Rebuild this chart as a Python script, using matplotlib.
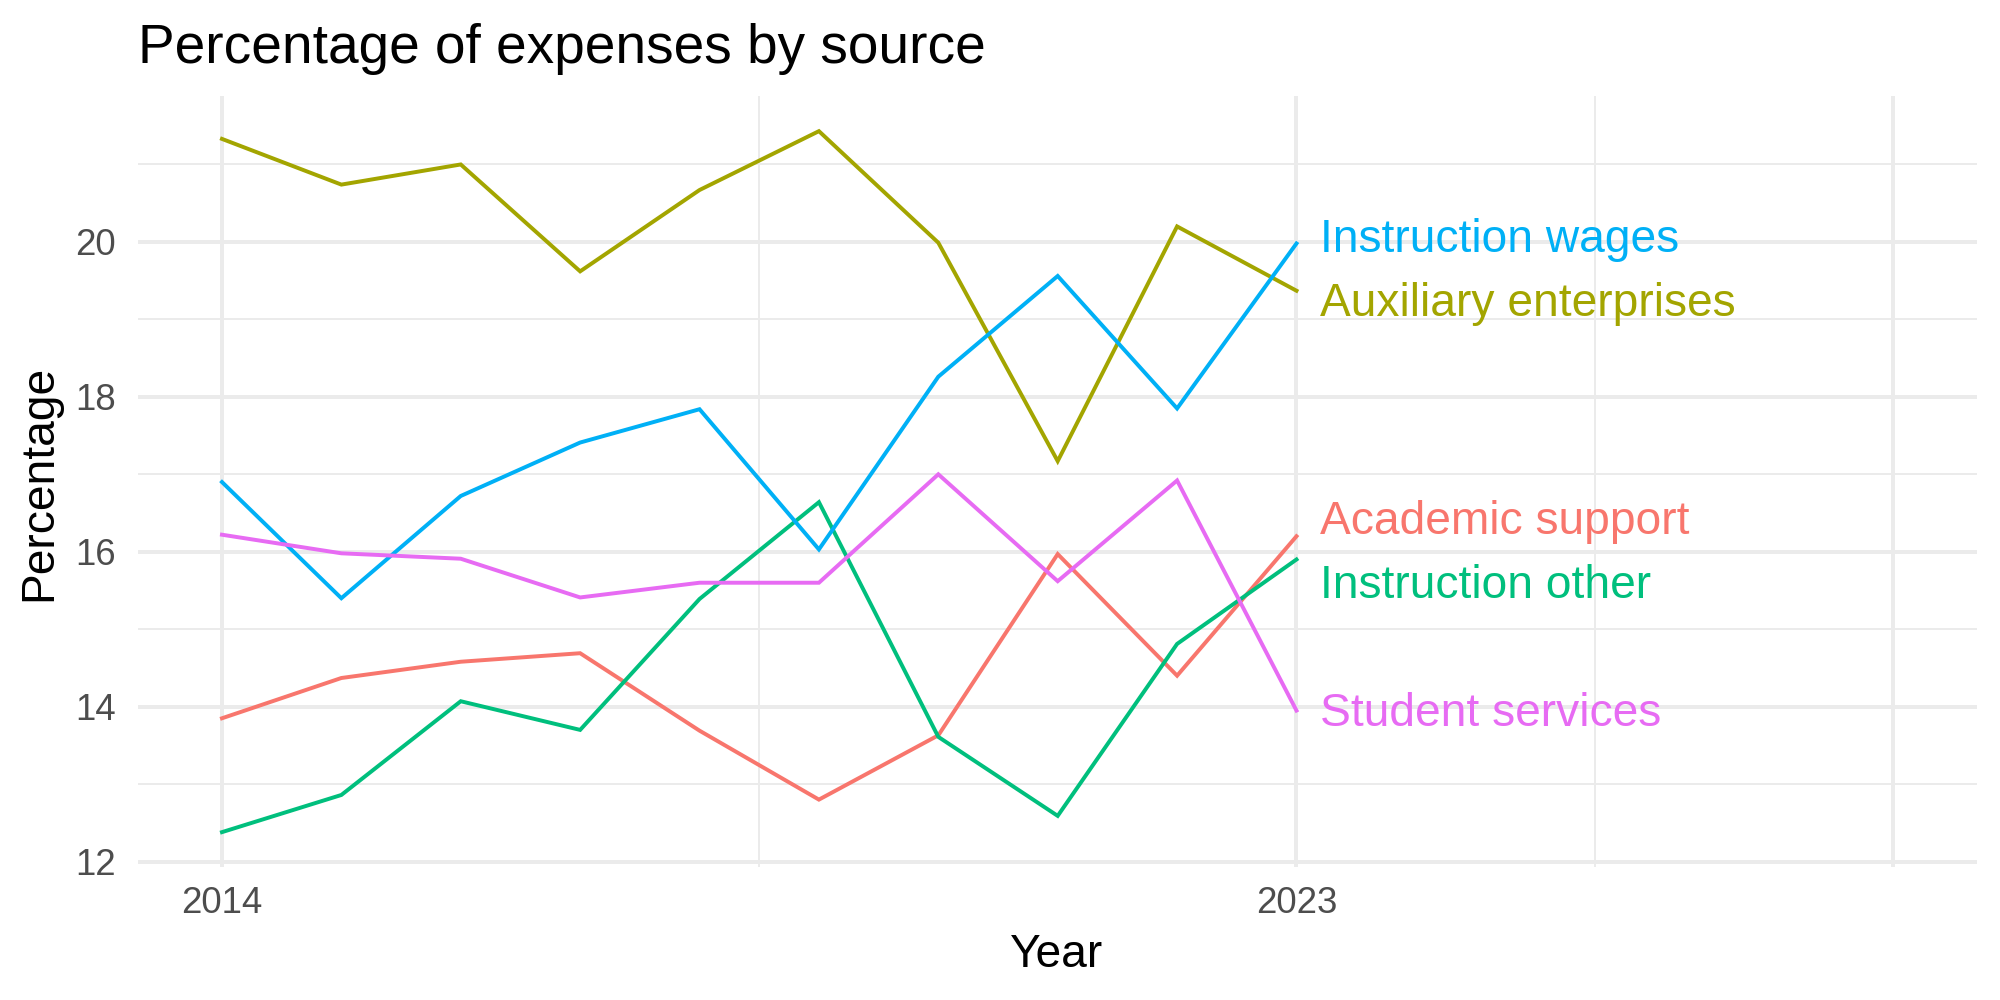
import matplotlib
matplotlib.use('Agg')
import matplotlib.pyplot as plt

plt.rcParams['font.family'] = ['Liberation Sans', 'DejaVu Sans']

years = list(range(2014, 2024))
academic_support = [13.85, 14.37, 14.58, 14.69, 13.69, 12.80, 13.63, 15.97, 14.40, 16.20]
auxiliary_enterprises = [21.33, 20.74, 21.00, 19.62, 20.67, 21.43, 19.99, 17.17, 20.20, 19.37]
instruction_other = [12.38, 12.86, 14.07, 13.70, 15.39, 16.64, 13.61, 12.59, 14.81, 15.90]
instruction_wages = [16.90, 15.40, 16.72, 17.41, 17.84, 16.03, 18.26, 19.56, 17.85, 19.98]
student_services = [16.22, 15.98, 15.91, 15.41, 15.60, 15.60, 17.00, 15.62, 16.92, 13.95]

series = [
    ('Academic support', academic_support, '#F8766D'),
    ('Auxiliary enterprises', auxiliary_enterprises, '#A3A500'),
    ('Instruction other', instruction_other, '#00BF7D'),
    ('Instruction wages', instruction_wages, '#00B0F6'),
    ('Student services', student_services, '#E76BF3'),
]
# repel-style nudges for the end labels
label_nudge = {'Academic support': 0.22, 'Auxiliary enterprises': -0.13,
               'Instruction other': -0.30, 'Instruction wages': 0.08,
               'Student services': 0.0}

fig = plt.figure(figsize=(10, 5), dpi=200)
ax = fig.add_axes([0.0692, 0.133, 0.9193, 0.7707])

for name, vals, color in series:
    ax.plot(years, vals, color=color, lw=1.42, solid_joinstyle='miter', zorder=3)
    ax.text(years[-1] + 0.2, vals[-1] + label_nudge[name] - 0.04, name, color=color,
            fontsize=16.6, ha='left', va='center', zorder=4)

ax.set_xlim(2013.3, 2028.7)
ax.set_ylim(11.93, 21.88)
ax.set_xticks([2014, 2023, 2028])
ax.set_xticklabels(['2014', '2023', ''])
ax.set_xticks([2018.5, 2025.5], minor=True)
ax.set_yticks([12, 14, 16, 18, 20])
ax.set_yticks([13, 15, 17, 19, 21], minor=True)

ax.grid(True, which='major', color='#EBEBEB', lw=1.42, zorder=0)
ax.grid(True, which='minor', color='#EBEBEB', lw=0.71, zorder=0)
ax.set_axisbelow(True)
for s in ax.spines.values():
    s.set_visible(False)
ax.tick_params(which='both', length=0, labelsize=13.2, labelcolor='#4D4D4D')
ax.tick_params(axis='x', pad=7)
ax.tick_params(axis='y', pad=8)

fig.text(0.0692, 0.937, 'Percentage of expenses by source', fontsize=19.8,
         ha='left', va='baseline')
fig.text(0.5285, 0.033, 'Year', fontsize=16.6, ha='center', va='baseline')
fig.text(0.0195, 0.517, 'Percentage', fontsize=16.6, rotation=90,
         ha='center', va='center')

fig.savefig('out.png', dpi=200)
